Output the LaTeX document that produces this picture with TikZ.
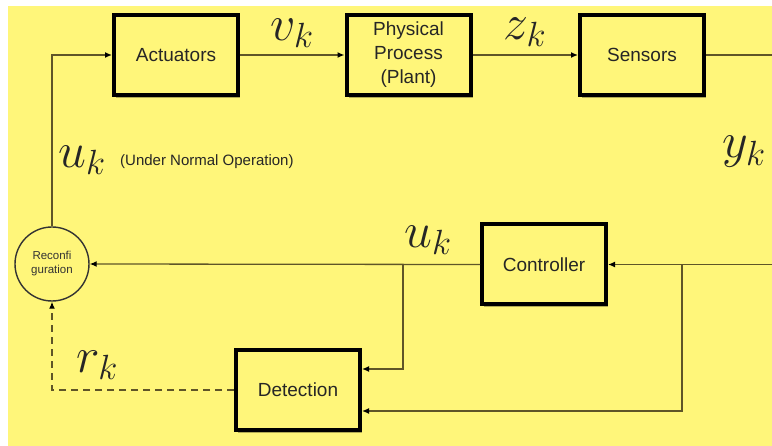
\RequirePackage{fix-cm}
\documentclass[tikz,border=0pt]{standalone}
\usepackage{fontspec}
\setmainfont{Liberation Sans}
\usetikzlibrary{arrows.meta,shadows}
\definecolor{bgyellow}{RGB}{255,246,122}
\definecolor{wire}{RGB}{95,85,40}
\tikzset{
  blk/.style={draw=black, line width=4pt, fill=bgyellow, minimum width=124pt, minimum height=80pt,
    align=center, font=\fontsize{19}{24}\selectfont, text=black!85,
    drop shadow={shadow xshift=2pt, shadow yshift=-3pt, opacity=0.3, fill=black}},
  circ/.style={draw=black!80, line width=1.4pt, fill=bgyellow, circle, minimum size=74pt, inner sep=0pt,
    align=center, font=\fontsize{11.5}{14}\selectfont, text=black!80},
  wireline/.style={draw=wire, line width=1.3pt},
  arr/.style={wireline, -{Latex[length=7pt,width=6pt,color=black]}},
  mlab/.style={font=\fontsize{50}{55}\selectfont, text=black!85, inner sep=0pt}
}
\begin{document}
\begin{tikzpicture}[x=1pt,y=-1pt]
\useasboundingbox (0,0) rectangle (772,446);
\fill[white] (0,0) rectangle (772,446);
\fill[bgyellow] (8,6) rectangle (772,446);
\node[blk] (act) at (176,55) {Actuators};
\node[blk] (plant) at (408.5,55) {Physical\\Process\\(Plant)};
\node[blk] (sens) at (642,55) {Sensors};
\node[blk] (ctrl) at (544,264.5) {Controller};
\node[blk] (det) at (298,390) {Detection};
\node[circ] (rec) at (52,264) {Reconfi\\guration};
\coordinate (sensR) at (772,55);
\coordinate (ctrlR) at (772,264.5);
\coordinate (b1) at (403,264.5);
\coordinate (b2) at (682,264.5);
\draw[arr] (rec.north) |- (act.west);
\draw[arr] (act) -- (plant);
\draw[arr] (plant) -- (sens);
\draw[wireline] (sens.east) -- (sensR);
\draw[arr] (ctrlR) -- (ctrl.east);
\draw[arr] (ctrl.west) -- (rec.east);
\draw[arr] (b1) |- ([yshift=21pt]det.east);
\draw[arr] (b2) |- ([yshift=-21pt]det.east);
\draw[arr, dashed, dash pattern=on 7pt off 5pt] (det.west) -| (rec.south);
\node[mlab] (vk) at (292,33) {$v_k$};
\node[mlab] (zk) at (525,32) {$z_k$};
\node[mlab, anchor=west] (yk) at (722,152) {$y_k$};
\node[mlab, anchor=west] (uk1) at (58,160) {$u_k$};
\node[anchor=base west, inner sep=0pt, font=\fontsize{15}{17}\selectfont, text=black!85] (normal) at (120,166) {(Under Normal Operation)};
\node[mlab] (uk2) at (428,240) {$u_k$};
\node[mlab] (rk) at (97,365) {$r_k$};
\end{tikzpicture}
\end{document}
